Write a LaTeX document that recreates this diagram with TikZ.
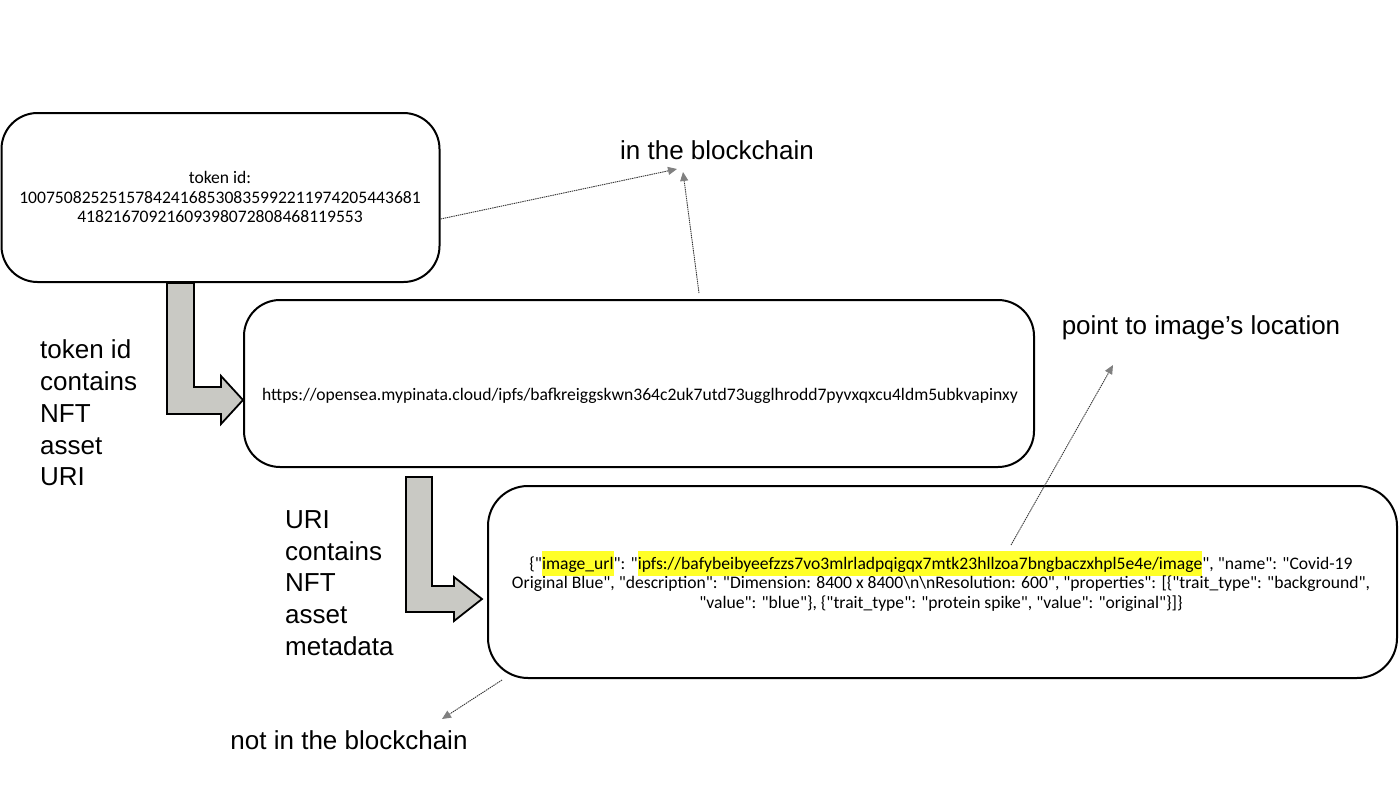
\documentclass[tikz,border=0pt]{standalone}
\usepackage{fontspec}
\setmainfont{Liberation Sans}
\newfontfamily\calfont{Carlito}
\usetikzlibrary{arrows.meta}
\definecolor{arrowfill}{RGB}{201,201,196}
\definecolor{hly}{RGB}{255,255,40}
\newcommand\hlt[1]{{\setlength{\fboxsep}{0pt}\colorbox{hly}{\rule[-6.5pt]{0pt}{25pt}#1}}}
\begin{document}
\begin{tikzpicture}[x=1pt,y=-1pt,
  box/.style={draw=black,line width=2pt,rounded corners=36pt,inner sep=0pt},
  boxtext/.style={font=\calfont\fontsize{17.6}{19.5}\selectfont,align=center,inner sep=0pt},
  biglabel/.style={font=\fontsize{26}{31.8}\selectfont,inner sep=0pt},
  bent/.style={draw=black,line width=1.8pt,fill=arrowfill,line join=miter},
  conn/.style={draw=black!80,line width=0.9pt,dash pattern=on 1.4pt off 0.8pt,
    -{Triangle[length=9pt,width=8pt,color=gray,fill=gray]}}]
\useasboundingbox (0,0) rectangle (1400,792);

% boxes
\node[box,minimum width=438pt,minimum height=169pt] (b1) at (220.5,197.5) {};
\node[box,minimum width=790pt,minimum height=167pt] (b2) at (639,383.5) {};
\node[box,minimum width=909pt,minimum height=192pt,rounded corners=40pt] (b3) at (942.5,582) {};

% box texts
\node[boxtext] (t1) at (220,197) {token id:\\100750825251578424168530835992211974205443681\\41821670921609398072808468119553};
\node[boxtext] (t2) at (640,396) {https://opensea.mypinata.cloud/ipfs/bafkreiggskwn364c2uk7utd73ugglhrodd7pyvxqxcu4ldm5ubkvapinxy};
\node[boxtext] (t3) at (941,581) {\{"\hlt{image\_url}": "\hlt{ipfs://bafybeibyeefzzs7vo3mlrladpqigqx7mtk23hllzoa7bngbaczxhpl5e4e/image}", "name": "Covid-19\\
Original Blue", "description": "Dimension: 8400 x 8400\textbackslash n\textbackslash nResolution: 600", "properties": [\{"trait\_type": "background",\\
"value": "blue"\}, \{"trait\_type": "protein spike", "value": "original"\}]\}};

% big labels
\node[biglabel] (lin) at (717,150) {in the blockchain};
\node[biglabel] (lpt) at (1201,328) {point to image's location};
\node[biglabel] (lnot) at (349,740) {not in the blockchain};
\node[biglabel,anchor=west,align=left] (lleft) at (40,413) {token id\\contains\\NFT\\asset\\URI};
\node[biglabel,anchor=west,align=left] (lmid) at (285,583) {URI\\contains\\NFT\\asset\\metadata};

% bent arrows
\draw[bent] (167,0 |- b1.south) -- (194,0 |- b1.south) -- (194,387) -- (221,387) -- (221,376)
  -- (b2.west |- 0,400) -- (221,424) -- (221,414) -- (167,414) -- cycle;
\draw[bent] (406,477) -- (432,477) -- (432,586) -- (454,586) -- (454,577)
  -- (482,599) -- (454,621) -- (454,612) -- (406,612) -- cycle;

% dotted connectors
\coordinate (ib1) at (677,169);
\coordinate (ib2) at (683,172);
\coordinate (ptt) at (1113,365);
\coordinate (nbt) at (442,719);
\coordinate (s2) at (699,293);
\coordinate (s3) at (1011,545);
\coordinate (s4) at (502,680);
\draw[conn] (b1.east |- 0,219) -- (ib1);
\draw[conn] (s2) -- (ib2);
\draw[conn] (s3) -- (ptt);
\draw[conn] (s4) -- (nbt);
\end{tikzpicture}
\end{document}
